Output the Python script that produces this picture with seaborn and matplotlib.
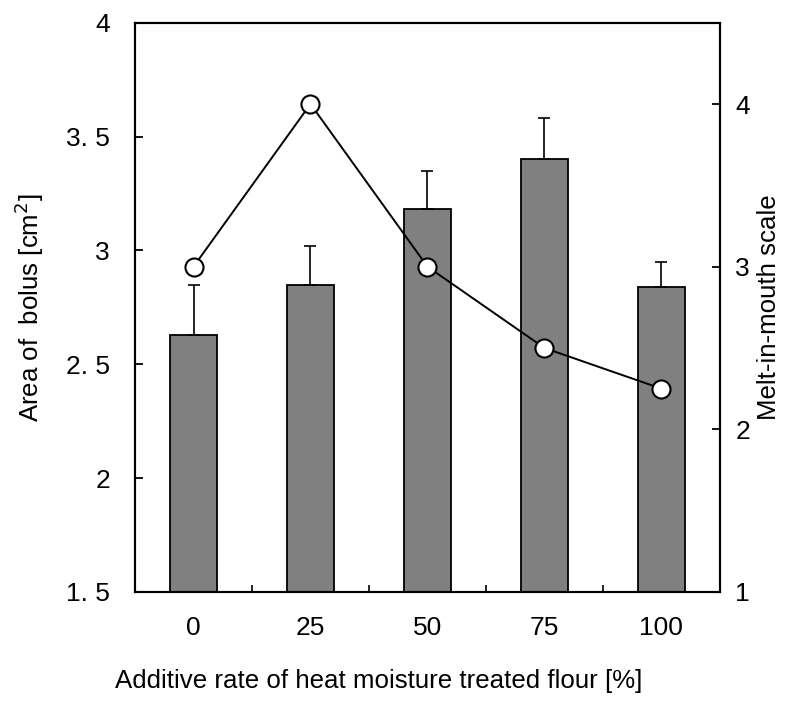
import numpy as np
import pandas as pd
import matplotlib
matplotlib.use("Agg")
import matplotlib.pyplot as plt
import seaborn as sns
from matplotlib import font_manager

# Additive rate of heat-moisture-treated flour (%)
rates = ["0", "25", "50", "75", "100"]
# Bolus area (cm^2): mean and standard deviation
bolus_area = [2.63, 2.85, 3.18, 3.40, 2.84]
bolus_sd = [0.22, 0.17, 0.17, 0.18, 0.11]
# Sensory melt-in-mouth score
melt_score = [3.0, 4.0, 3.0, 2.5, 2.25]

left_ticks = [1.5, 2.0, 2.5, 3.0, 3.5, 4.0]
left_ticklabels = ["1. 5", "2", "2. 5", "3", "3. 5", "4"]
right_ticks = [1, 2, 3, 4]

sns.set_style("ticks")
plt.rcParams["font.family"] = ["Liberation Sans", "DejaVu Sans"]
plt.rcParams.update({
    "axes.linewidth": 1.5,
    "text.color": "black",
    "axes.labelcolor": "black",
    "axes.edgecolor": "black",
    "xtick.color": "black",
    "ytick.color": "black",
})

# prefer a narrow face for the numeric tick labels when one is installed
installed = {f.name for f in font_manager.fontManager.ttflist}
narrow = [n for n in ("Liberation Sans Narrow", "DejaVu Sans Condensed")
          if n in installed] + ["Liberation Sans", "DejaVu Sans"]

df = pd.DataFrame({"rate": rates, "area": bolus_area, "sd": bolus_sd,
                   "melt": melt_score})
df["pos"] = np.arange(len(rates))

fig = plt.figure(figsize=(8.08, 7.05), dpi=100)
ax = fig.add_axes([0.1671, 0.1603, 0.7239, 0.8075])

sns.barplot(data=df, x="rate", y="area", order=rates, color="#808080",
            saturation=1, width=0.4, edgecolor="black", linewidth=1.3,
            errorbar=None, ax=ax)
ax.errorbar(df["pos"], df["area"], yerr=[np.zeros(len(df)), df["sd"]],
            fmt="none", ecolor="black", elinewidth=1.2, capsize=4,
            capthick=1.2, zorder=1)

ax.set_xlim(-0.5, len(rates) - 0.5)
ax.set_ylim(1.5, 4.0)
ax.set_yticks(left_ticks)
ax.set_yticklabels(left_ticklabels, family=narrow)
# short inward ticks sit between the categories; labels sit under each bar
ax.set_xticks(df["pos"][:-1] + 0.5)
ax.set_xticklabels([])
ax.tick_params(axis="x", which="major", direction="in", length=5, width=1.2)
ax.set_xticks(df["pos"], minor=True)
ax.set_xticklabels(rates, minor=True, family=narrow)
ax.tick_params(axis="x", which="minor", length=0, pad=17, labelsize=19)
ax.tick_params(axis="y", direction="in", length=6, width=1.3, pad=18,
               labelsize=19)
ax.set_xlabel("Additive rate of heat moisture treated flour [%]",
              fontsize=18.6)
ax.xaxis.set_label_coords(0.417, -0.135)
ax.set_ylabel("Area of  bolus [cm$^2$]", fontsize=18.6)
ax.yaxis.set_label_coords(-0.152, 0.5)
for s in ax.spines.values():
    s.set_visible(True)
    s.set_linewidth(1.5)
    s.set_color("black")

ax2 = ax.twinx()
sns.lineplot(data=df, x="pos", y="melt", color="black", linewidth=1.4,
             marker="o", markersize=13, markerfacecolor="white",
             markeredgecolor="black", markeredgewidth=1.5, ax=ax2, zorder=3)
ax2.set_ylim(1, 4.5)
ax2.set_yticks(right_ticks)
ax2.set_yticklabels([str(t) for t in right_ticks])
ax2.tick_params(axis="y", direction="in", length=6, width=1.3, pad=11,
                labelsize=19)
ax2.set_ylabel("Melt-in-mouth scale", fontsize=18.6)
ax2.yaxis.set_label_coords(1.063, 0.5)
ax2.set_xlabel("")
ax2.set_xlim(-0.5, len(rates) - 0.5)
for s in ax2.spines.values():
    s.set_linewidth(1.5)
    s.set_color("black")

fig.savefig("out.png", dpi=100)
